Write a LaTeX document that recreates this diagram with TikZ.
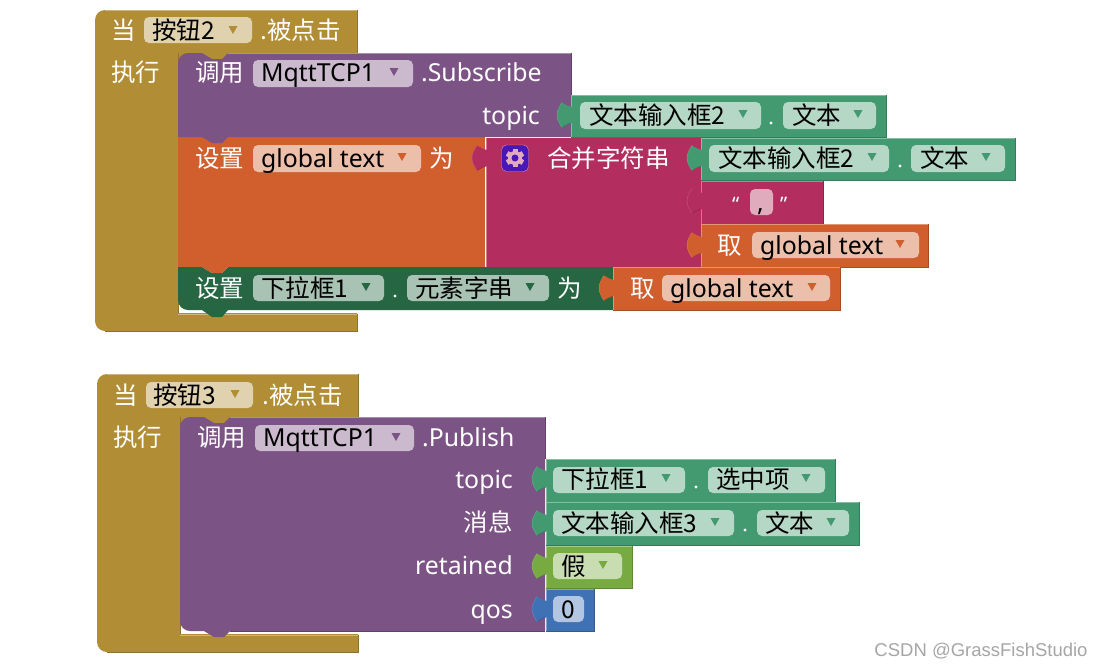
\documentclass[tikz,border=0pt]{standalone}
\usepackage{fontspec}
\usepackage{tikz}
\setmainfont{Noto Sans}
\newfontfamily\cjk{Noto Sans CJK SC}
\newfontfamily\wmfont{Liberation Sans}
\definecolor{ctlgold}{RGB}{177,142,53}
\definecolor{procpurple}{RGB}{124,83,133}
\definecolor{varorange}{RGB}{208,95,45}
\definecolor{textrose}{RGB}{179,45,94}
\definecolor{compgreen}{RGB}{67,154,112}
\definecolor{setgreen}{RGB}{38,102,67}
\definecolor{logiclime}{RGB}{119,171,65}
\definecolor{mathblue}{RGB}{63,113,181}
\definecolor{gearback}{RGB}{73,23,184}
\tikzset{
  wtext/.style={inner sep=0pt,anchor=west,text height=21pt,text depth=3pt,white,font=\cjk\fontsize{24.5}{28}\selectfont},
  btext/.style={wtext,black},
  rtext/.style={wtext,anchor=east},
  wlatin/.style={wtext,font=\rmfamily\fontsize{24.8}{28}\selectfont},
  blatin/.style={wlatin,black},
  rlatin/.style={wlatin,anchor=east},
  quote text/.style={wtext,font=\rmfamily\fontsize{20}{24}\selectfont},
  mark text/.style={inner sep=0pt,gray!70,font=\wmfont\fontsize{18.5}{20}\selectfont}
}
\newcommand{\valblock}[5]{
  \fill[#1] (#2,#3) rectangle (#4,#5);
  \draw[#1!65!white] (#2,#5) -- (#2,#3) -- (#4,#3);
  \draw[#1!80!black] (#4,#3) -- (#4,#5) -- (#2,#5);
}
\newcommand{\tabin}[3]{
  \fill[#1,shift={(#2,#3)}] (1,-8) .. controls (-4,-9) and (-6,-11) .. (-9,-12.5)
    .. controls (-12,-8) and (-14,-4) .. (-14,0) .. controls (-14,4) and (-12,8) .. (-9,12.5)
    .. controls (-6,11) and (-4,9) .. (1,8) -- cycle;
  \draw[#1!80!white,shift={(#2,#3)}] (-9,-12.5) .. controls (-12,-8) and (-14,-4) .. (-14,0) .. controls (-14,4) and (-12,8) .. (-9,12.5);
  \draw[#1!75!black,shift={(#2,#3)}] (-9,12.5) .. controls (-6,11) and (-4,9) .. (0,8);
}
\newcommand{\fieldbox}[5]{
  \fill[#1!40!white,rounded corners=5pt] (#2,#3) rectangle (#4,#5);
}
\newcommand{\droptri}[3]{
  \fill[#1] (#2-4.5,#3-4) -- (#2+4.5,#3-4) -- (#2,#3+4) -- cycle;
}
\newcommand{\fielddot}[2]{
  \fill[white] (#1,#2) circle (1.6);
}
\begin{document}
\begin{tikzpicture}[x=1pt,y=-1pt]
  \useasboundingbox (0,0) rectangle (1102,667);
  \fill[white] (0,0) rectangle (1102,667);

  \fill[ctlgold] (357,10) [rounded corners=10pt] -- (95,10) -- (95,331) [sharp corners] -- (357,331) -- (357,313) -- (178,313) -- (178,53) -- (357,53) -- cycle;
  \fill[ctlgold] (178,53) rectangle (228,60);
  \draw[ctlgold!65!white] (357,10) -- (105,10);
  \draw[ctlgold!65!white] (178,314) -- (357,314);
  \draw[ctlgold!80!black] (357,10) -- (357,53);
  \draw[ctlgold!80!black] (357,314) -- (357,331) -- (105,331);
  \draw[ctlgold!80!black] (178,53) -- (178,313);

  \fill[setgreen] (178,267) -- (202,267) -- (212,273) -- (222,273) -- (228,267) -- (613,267) -- (613,310) -- (228,310) -- (222,317) -- (212,317) -- (202,310) [rounded corners=10pt] -- (178,310) [sharp corners] -- cycle;
  \fill[varorange] (178,137) rectangle (485,267);
  \fill[varorange] (202,267) -- (212,273) -- (222,273) -- (228,267) -- cycle;
  \fill[procpurple] (178,137) [rounded corners=10pt] -- (178,53) [sharp corners] -- (202,53) -- (212,59) -- (222,59) -- (228,53) -- (571,53) -- (571,137) -- (228,137) -- (222,143) -- (212,143) -- (202,137) -- cycle;
  \draw[procpurple!65!white] (228,53) -- (571,53);
  \draw[procpurple!80!black] (571,53) -- (571,95);
  \fill[textrose] (486,138) rectangle (701,267);
  \draw[textrose!65!white] (486,138) -- (486,267);

  \valblock{compgreen}{571}{95}{886}{137}
  \tabin{compgreen}{571}{115}
  \valblock{compgreen}{701}{138}{1015}{180}
  \tabin{compgreen}{701}{158}
  \valblock{textrose}{701}{181}{823}{224}
  \tabin{textrose}{701}{201}
  \valblock{varorange}{701}{224}{928}{267}
  \tabin{varorange}{701}{245}
  \valblock{varorange}{613}{267}{840}{310}
  \tabin{varorange}{613}{288}
  \tabin{textrose}{486}{158}

  \node[wtext] (when2) at (111,30) {当};
  \fieldbox{ctlgold}{144}{17}{252}{43}
  \node[btext] (btn2) at (152,30) {按钮2};
  \droptri{ctlgold}{233}{30}
  \node[wtext] (click2) at (260,30) {.被点击};
  \node[wtext] (do2) at (111,72) {执行};

  \node[wtext] (call2) at (195,72) {调用};
  \fieldbox{procpurple}{253}{60}{413}{87}
  \node[blatin] (mqtt2) at (261,72) {MqttTCP1};
  \droptri{procpurple}{394}{72}
  \node[wlatin] (subscribe) at (421,72) {.Subscribe};
  \node[rlatin] (topic2) at (540,115) {topic};

  \fieldbox{compgreen}{580}{102}{761}{129}
  \node[btext] (input2a) at (589,115) {文本输入框2};
  \droptri{compgreen}{743}{114}
  \fielddot{771}{123}
  \fieldbox{compgreen}{783}{102}{876}{129}
  \node[btext] (text2a) at (792,115) {文本};
  \droptri{compgreen}{858}{114}

  \node[wtext] (set2) at (195,158) {设置};
  \fieldbox{varorange}{253}{145}{421}{172}
  \node[blatin] (global2) at (261,158) {global text};
  \droptri{varorange}{402}{157}
  \node[wtext] (to2) at (429,158) {为};

  \fill[gearback,draw=textrose!50!white,rounded corners=5pt] (501.5,145) rectangle (528.5,171.5);
  \foreach \a in {0,60,...,300}
    \fill[textrose!40!white,rotate around={\a:(515,158)}] (512.5,149) rectangle (517.5,167);
  \fill[textrose!40!white] (515,158) circle (7);
  \fill[gearback] (515,158) circle (3.5);
  \node[wtext] (join) at (547,158) {合并字符串};

  \fieldbox{compgreen}{709}{145}{889}{172}
  \node[btext] (input2b) at (718,158) {文本输入框2};
  \droptri{compgreen}{872}{157}
  \fielddot{900}{166}
  \fieldbox{compgreen}{911}{145}{1005}{172}
  \node[btext] (text2b) at (920,158) {文本};
  \droptri{compgreen}{986}{157}

  \node[quote text] (openq) at (732,202) {“};
  \fieldbox{textrose}{750}{189}{773}{215}
  \node[blatin] (comma) at (757,202) {,};
  \node[quote text] (closeq) at (780,202) {”};

  \node[wtext] (get2a) at (717,245) {取};
  \fieldbox{varorange}{752}{232}{919}{258}
  \node[blatin] (global2a) at (760,245) {global text};
  \droptri{varorange}{900}{244}

  \node[wtext] (set2b) at (195,288) {设置};
  \fieldbox{setgreen}{253}{275}{384}{301}
  \node[btext] (drop1) at (261,288) {下拉框1};
  \droptri{setgreen}{366}{287}
  \fielddot{395}{296}
  \fieldbox{setgreen}{407}{275}{549}{301}
  \node[btext] (elems) at (415,288) {元素字串};
  \droptri{setgreen}{530}{287}
  \node[wtext] (to2b) at (557,288) {为};

  \node[wtext] (get2b) at (630,288) {取};
  \fieldbox{varorange}{662}{275}{830}{301}
  \node[blatin] (global2b) at (670,288) {global text};
  \droptri{varorange}{812}{287}

  \fill[ctlgold] (358,374) [rounded corners=10pt] -- (97,374) -- (97,652) [sharp corners] -- (358,652) -- (358,634) -- (180,634) -- (180,417) -- (358,417) -- cycle;
  \fill[ctlgold] (180,417) rectangle (230,424);
  \draw[ctlgold!65!white] (358,374) -- (107,374);
  \draw[ctlgold!65!white] (180,635) -- (358,635);
  \draw[ctlgold!80!black] (358,374) -- (358,417);
  \draw[ctlgold!80!black] (358,635) -- (358,652) -- (107,652);
  \draw[ctlgold!80!black] (180,417) -- (180,634);

  \fill[procpurple] (204,631) [rounded corners=10pt] -- (180,631) -- (180,417) [sharp corners] -- (204,417) -- (214,423) -- (224,423) -- (230,417) -- (545,417) -- (545,631) -- (230,631) -- (224,637) -- (214,637) -- cycle;
  \draw[procpurple!65!white] (230,417) -- (545,417);
  \draw[procpurple!80!black] (230,631) -- (545,631);
  \draw[procpurple!80!black] (545,417) -- (545,459);

  \valblock{compgreen}{546}{459}{835}{502}
  \tabin{compgreen}{546}{479}
  \valblock{compgreen}{546}{502}{859}{545}
  \tabin{compgreen}{546}{523}
  \valblock{logiclime}{546}{546}{632}{588}
  \tabin{logiclime}{546}{566}
  \valblock{mathblue}{546}{589}{594}{631}
  \tabin{mathblue}{546}{609}

  \node[wtext] (when3) at (113,395) {当};
  \fieldbox{ctlgold}{146}{382}{253}{408}
  \node[btext] (btn3) at (153,395) {按钮3};
  \droptri{ctlgold}{235}{394}
  \node[wtext] (click3) at (262,395) {.被点击};
  \node[wtext] (do3) at (113,437) {执行};

  \node[wtext] (call3) at (197,437) {调用};
  \fieldbox{procpurple}{255}{425}{414}{451}
  \node[blatin] (mqtt3) at (263,437) {MqttTCP1};
  \droptri{procpurple}{396}{437}
  \node[wlatin] (publish) at (422,437) {.Publish};

  \node[rlatin] (topic3) at (513,479) {topic};
  \node[rtext] (msg3) at (513,522) {消息};
  \node[rlatin] (retained3) at (513,565) {retained};
  \node[rlatin] (qos3) at (513,609) {qos};

  \fieldbox{compgreen}{553}{467}{685}{493}
  \node[btext] (drop3) at (561,479) {下拉框1};
  \droptri{compgreen}{666}{478}
  \fielddot{696}{487}
  \fieldbox{compgreen}{708}{467}{825}{493}
  \node[btext] (selected) at (716,479) {选中项};
  \droptri{compgreen}{806}{478}

  \fieldbox{compgreen}{553}{510}{734}{536}
  \node[btext] (input3) at (561,523) {文本输入框3};
  \droptri{compgreen}{715}{522}
  \fielddot{745}{530}
  \fieldbox{compgreen}{757}{510}{849}{536}
  \node[btext] (text3) at (765,523) {文本};
  \droptri{compgreen}{831}{522}

  \fieldbox{logiclime}{553}{553}{622}{579}
  \node[btext] (falseval) at (561,566) {假};
  \droptri{logiclime}{603}{565}

  \fieldbox{mathblue}{553}{596}{584}{622}
  \node[btext] (zero) at (561,609) {0};

  \node[mark text] (csdn) at (981,651.5) {CSDN @GrassFishStudio};
\end{tikzpicture}
\end{document}
